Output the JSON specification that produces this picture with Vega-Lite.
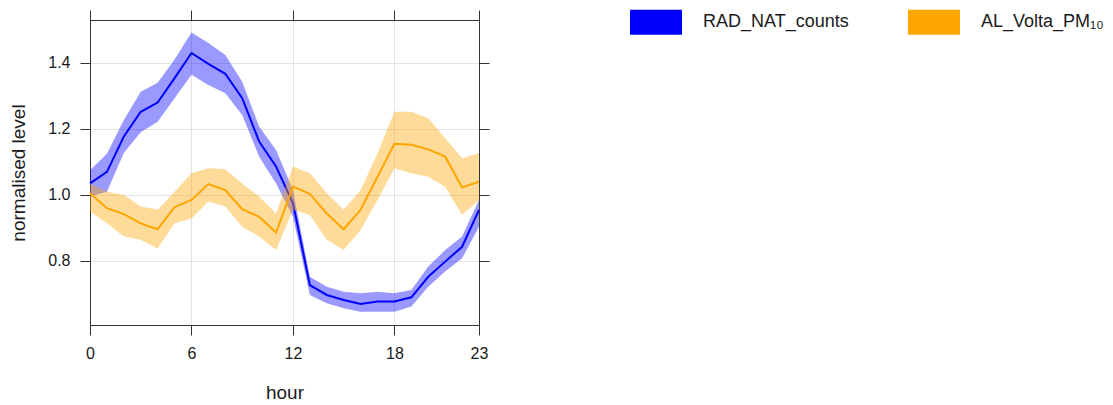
{
  "$schema": "https://vega.github.io/schema/vega-lite/v6.json",
  "width": 389,
  "height": 305,
  "autosize": {"type": "none"},
  "padding": {"left": 90, "top": 20, "right": 634, "bottom": 80},
  "background": "white",
  "config": {
    "font": "Liberation Sans",
    "view": {"stroke": "#333333", "strokeWidth": 1},
    "axis": {
      "labelFont": "Liberation Sans",
      "titleFont": "Liberation Sans",
      "labelFontSize": 16,
      "titleFontSize": 19,
      "titleFontWeight": "normal",
      "labelColor": "#1a1a1a",
      "titleColor": "#1a1a1a",
      "domainColor": "#333333",
      "tickColor": "#333333",
      "tickSize": 10,
      "labelFlush": false,
      "gridColor": "#e3e3e3",
      "gridWidth": 1
    },
    "legend": {"labelFont": "Liberation Sans"}
  },
  "data": {
    "values": [
      {"hour": 0, "series": "RAD_NAT_counts", "mean": 1.035, "lower": 0.995, "upper": 1.075},
      {"hour": 1, "series": "RAD_NAT_counts", "mean": 1.07, "lower": 1.01, "upper": 1.125},
      {"hour": 2, "series": "RAD_NAT_counts", "mean": 1.177, "lower": 1.127, "upper": 1.227},
      {"hour": 3, "series": "RAD_NAT_counts", "mean": 1.252, "lower": 1.19, "upper": 1.313},
      {"hour": 4, "series": "RAD_NAT_counts", "mean": 1.28, "lower": 1.222, "upper": 1.34},
      {"hour": 5, "series": "RAD_NAT_counts", "mean": 1.354, "lower": 1.293, "upper": 1.41},
      {"hour": 6, "series": "RAD_NAT_counts", "mean": 1.43, "lower": 1.364, "upper": 1.492},
      {"hour": 7, "series": "RAD_NAT_counts", "mean": 1.397, "lower": 1.333, "upper": 1.46},
      {"hour": 8, "series": "RAD_NAT_counts", "mean": 1.367, "lower": 1.308, "upper": 1.424},
      {"hour": 9, "series": "RAD_NAT_counts", "mean": 1.293, "lower": 1.242, "upper": 1.343},
      {"hour": 10, "series": "RAD_NAT_counts", "mean": 1.162, "lower": 1.116, "upper": 1.207},
      {"hour": 11, "series": "RAD_NAT_counts", "mean": 1.086, "lower": 1.035, "upper": 1.136},
      {"hour": 12, "series": "RAD_NAT_counts", "mean": 0.975, "lower": 0.935, "upper": 1.015},
      {"hour": 13, "series": "RAD_NAT_counts", "mean": 0.727, "lower": 0.697, "upper": 0.752},
      {"hour": 14, "series": "RAD_NAT_counts", "mean": 0.697, "lower": 0.672, "upper": 0.722},
      {"hour": 15, "series": "RAD_NAT_counts", "mean": 0.682, "lower": 0.657, "upper": 0.707},
      {"hour": 16, "series": "RAD_NAT_counts", "mean": 0.67, "lower": 0.646, "upper": 0.702},
      {"hour": 17, "series": "RAD_NAT_counts", "mean": 0.677, "lower": 0.646, "upper": 0.707},
      {"hour": 18, "series": "RAD_NAT_counts", "mean": 0.677, "lower": 0.646, "upper": 0.702},
      {"hour": 19, "series": "RAD_NAT_counts", "mean": 0.69, "lower": 0.662, "upper": 0.712},
      {"hour": 20, "series": "RAD_NAT_counts", "mean": 0.752, "lower": 0.722, "upper": 0.783},
      {"hour": 21, "series": "RAD_NAT_counts", "mean": 0.798, "lower": 0.768, "upper": 0.833},
      {"hour": 22, "series": "RAD_NAT_counts", "mean": 0.843, "lower": 0.808, "upper": 0.874},
      {"hour": 23, "series": "RAD_NAT_counts", "mean": 0.955, "lower": 0.904, "upper": 0.985},
      {"hour": 0, "series": "AL_Volta_PM₁₀", "mean": 1.005, "lower": 0.95, "upper": 1.035},
      {"hour": 1, "series": "AL_Volta_PM₁₀", "mean": 0.96, "lower": 0.914, "upper": 1.01},
      {"hour": 2, "series": "AL_Volta_PM₁₀", "mean": 0.942, "lower": 0.874, "upper": 1.0},
      {"hour": 3, "series": "AL_Volta_PM₁₀", "mean": 0.914, "lower": 0.864, "upper": 0.965},
      {"hour": 4, "series": "AL_Volta_PM₁₀", "mean": 0.896, "lower": 0.838, "upper": 0.955},
      {"hour": 5, "series": "AL_Volta_PM₁₀", "mean": 0.963, "lower": 0.914, "upper": 1.01},
      {"hour": 6, "series": "AL_Volta_PM₁₀", "mean": 0.985, "lower": 0.929, "upper": 1.066},
      {"hour": 7, "series": "AL_Volta_PM₁₀", "mean": 1.033, "lower": 0.98, "upper": 1.081},
      {"hour": 8, "series": "AL_Volta_PM₁₀", "mean": 1.015, "lower": 0.965, "upper": 1.078},
      {"hour": 9, "series": "AL_Volta_PM₁₀", "mean": 0.957, "lower": 0.904, "upper": 1.035},
      {"hour": 10, "series": "AL_Volta_PM₁₀", "mean": 0.934, "lower": 0.874, "upper": 0.995},
      {"hour": 11, "series": "AL_Volta_PM₁₀", "mean": 0.886, "lower": 0.833, "upper": 0.944},
      {"hour": 12, "series": "AL_Volta_PM₁₀", "mean": 1.025, "lower": 0.955, "upper": 1.086},
      {"hour": 13, "series": "AL_Volta_PM₁₀", "mean": 1.003, "lower": 0.939, "upper": 1.066},
      {"hour": 14, "series": "AL_Volta_PM₁₀", "mean": 0.944, "lower": 0.864, "upper": 1.005},
      {"hour": 15, "series": "AL_Volta_PM₁₀", "mean": 0.896, "lower": 0.833, "upper": 0.955},
      {"hour": 16, "series": "AL_Volta_PM₁₀", "mean": 0.955, "lower": 0.894, "upper": 1.015},
      {"hour": 17, "series": "AL_Volta_PM₁₀", "mean": 1.055, "lower": 0.985, "upper": 1.126},
      {"hour": 18, "series": "AL_Volta_PM₁₀", "mean": 1.155, "lower": 1.081, "upper": 1.252},
      {"hour": 19, "series": "AL_Volta_PM₁₀", "mean": 1.152, "lower": 1.066, "upper": 1.252},
      {"hour": 20, "series": "AL_Volta_PM₁₀", "mean": 1.138, "lower": 1.055, "upper": 1.232},
      {"hour": 21, "series": "AL_Volta_PM₁₀", "mean": 1.116, "lower": 1.025, "upper": 1.172},
      {"hour": 22, "series": "AL_Volta_PM₁₀", "mean": 1.023, "lower": 0.939, "upper": 1.111},
      {"hour": 23, "series": "AL_Volta_PM₁₀", "mean": 1.04, "lower": 0.985, "upper": 1.126}
    ]
  },
  "resolve": {"axis": {"x": "independent", "y": "independent"}},
  "layer": [
    {
      "transform": [{"filter": "datum.series === 'RAD_NAT_counts'"}],
      "mark": {"type": "area", "opacity": 0.4},
      "encoding": {
        "x": {"field": "hour", "type": "quantitative",
          "scale": {"domain": [0, 23], "nice": false, "zero": false},
          "axis": {"orient": "bottom", "values": [0, 6, 12, 18, 23], "grid": true, "title": "hour", "labelPadding": 10, "titlePadding": 22}},
        "y": {"field": "lower", "type": "quantitative",
          "scale": {"domain": [0.606, 1.53], "nice": false, "zero": false},
          "axis": {"orient": "left", "values": [0.8, 1.0, 1.2, 1.4], "format": ".1f", "grid": true, "title": "normalised level", "labelPadding": 10, "titlePadding": 19}},
        "y2": {"field": "upper"},
        "color": {"field": "series", "type": "nominal",
          "scale": {"domain": ["RAD_NAT_counts", "AL_Volta_PM₁₀"], "range": ["#0000ff", "#ffa500"]},
          "legend": {"orient": "none", "legendX": 540, "legendY": -24, "direction": "horizontal", "title": null,
            "symbolType": "M-1,-0.48H1V0.48H-1Z", "symbolSize": 2704, "symbolOpacity": 1, "symbolStrokeWidth": 0,
            "labelFontSize": 18, "labelColor": "#1a1a1a", "labelOffset": 21, "columnPadding": 59, "padding": 0, "labelLimit": 300}}
      }
    },
    {
      "transform": [{"filter": "datum.series === 'RAD_NAT_counts'"}],
      "mark": {"type": "line", "color": "#0000ff", "strokeWidth": 2},
      "encoding": {
        "x": {"field": "hour", "type": "quantitative", "axis": null},
        "y": {"field": "mean", "type": "quantitative", "axis": null}
      }
    },
    {
      "transform": [{"filter": "datum.series === 'AL_Volta_PM₁₀'"}],
      "mark": {"type": "area", "opacity": 0.4},
      "encoding": {
        "x": {"field": "hour", "type": "quantitative", "axis": null},
        "y": {"field": "lower", "type": "quantitative", "axis": null},
        "y2": {"field": "upper"},
        "color": {"field": "series", "type": "nominal",
          "scale": {"domain": ["RAD_NAT_counts", "AL_Volta_PM₁₀"], "range": ["#0000ff", "#ffa500"]},
          "legend": {"orient": "none", "legendX": 540, "legendY": -24, "direction": "horizontal", "title": null,
            "symbolType": "M-1,-0.48H1V0.48H-1Z", "symbolSize": 2704, "symbolOpacity": 1, "symbolStrokeWidth": 0,
            "labelFontSize": 18, "labelColor": "#1a1a1a", "labelOffset": 21, "columnPadding": 59, "padding": 0, "labelLimit": 300}}
      }
    },
    {
      "transform": [{"filter": "datum.series === 'AL_Volta_PM₁₀'"}],
      "mark": {"type": "line", "color": "#ffa500", "strokeWidth": 2},
      "encoding": {
        "x": {"field": "hour", "type": "quantitative",
          "axis": {"orient": "top", "values": [0, 6, 12, 18, 23], "labels": false, "grid": false, "title": null}},
        "y": {"field": "mean", "type": "quantitative",
          "axis": {"orient": "right", "values": [0.8, 1.0, 1.2, 1.4], "labels": false, "grid": false, "title": null}}
      }
    }
  ]
}
